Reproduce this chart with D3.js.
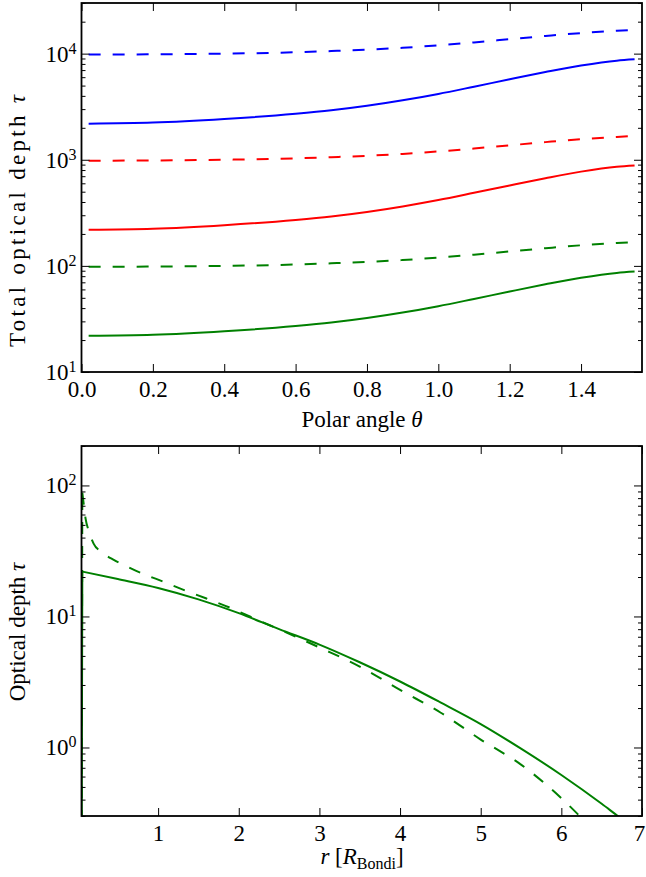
<!DOCTYPE html>
<html>
<head>
<meta charset="utf-8">
<script src="https://cdn.jsdelivr.net/npm/d3@7"></script>
<style>
body { margin: 0; background: #fff; }
text { font-family: "Liberation Serif", "DejaVu Serif", serif; fill: #000; }
</style>
</head>
<body>
<svg id="fig" width="646" height="877"></svg>
<script>
// top panel: total optical depth vs polar angle
var theta = [0.02, 0.2, 0.4, 0.6, 0.7, 0.8, 0.9, 1.0, 1.1, 1.2, 1.3, 1.4, 1.5, 1.55]
var tauBlueSolid = [2190, 2240, 2420, 2710, 2920, 3220, 3630, 4170, 4880, 5730, 6700, 7730, 8590, 8830]
var tauBlueDashed = [9800, 9850, 10000, 10300, 10570, 10890, 11350, 11970, 12760, 13680, 14660, 15630, 16410, 16790]
var tauRedSolid = [219, 224, 242, 271, 292, 322, 363, 417, 488, 573, 670, 773, 859, 883]
var tauRedDashed = [980, 985, 1000, 1030, 1057, 1089, 1135, 1197, 1276, 1368, 1466, 1563, 1641, 1679]
var tauGreenSolid = [21.9, 22.4, 24.2, 27.1, 29.2, 32.2, 36.3, 41.7, 48.8, 57.3, 67.0, 77.3, 85.9, 88.3]
var tauGreenDashed = [98.0, 98.5, 100, 103, 105.7, 108.9, 113.5, 119.7, 127.6, 136.8, 146.6, 156.3, 164.1, 167.9]

// bottom panel: optical depth vs radius (first point is the drop at the inner edge)
var rSolid = [0.05, 0.06, 0.5, 1.0, 1.5, 2.0, 2.5, 3.0, 3.5, 4.0, 4.5, 5.0, 5.5, 6.0, 6.5, 6.7, 6.8]
var tauSolid = [0.05, 22.0, 19.3, 16.5, 13.5, 10.6, 8.0, 6.1, 4.47, 3.19, 2.21, 1.51, 0.98, 0.617, 0.372, 0.30, 0.27]
var rDashed = [0.05, 0.06, 0.08, 0.1, 0.14, 0.2, 0.3, 0.45, 0.6, 0.8, 1.0, 1.3, 1.6, 1.9, 2.2, 2.6, 3.0, 3.5, 4.0, 4.5, 5.0, 5.5, 6.0, 6.3]
var tauDashed = [0.05, 88, 70, 56, 45, 36, 31, 27, 24.3, 21.3, 19.1, 16.1, 13.7, 11.6, 9.6, 7.5, 5.8, 4.15, 2.75, 1.85, 1.15, 0.74, 0.41, 0.27]

// ticks
var thetaTicks = [0.0, 0.2, 0.4, 0.6, 0.8, 1.0, 1.2, 1.4]
var thetaTickLabels = ["0.0", "0.2", "0.4", "0.6", "0.8", "1.0", "1.2", "1.4"]
var tauTopTicks = [10, 100, 1000, 10000]
var tauTopExp = ["1", "2", "3", "4"]
var rTicks = [1, 2, 3, 4, 5, 6, 7]
var rTickLabels = ["1", "2", "3", "4", "5", "6", "7"]
var tauBotTicks = [1, 10, 100]
var tauBotExp = ["0", "1", "2"]

var blue = "#0000ff", red = "#ff0000", green = "#008000"

var svg = d3.select("#fig")
var axLeft = 81.5, axRight = 642

function minorLog(lo, hi) {
  var out = []
  for (var e = -2; e < 6; e++) {
    for (var m = 2; m < 10; m++) {
      var v = m * Math.pow(10, e)
      if (v >= lo && v <= hi) out.push(v)
    }
  }
  return out
}

function supLabels(sel, exps) {
  sel.selectAll(".tick text").each(function(d, i) {
    var t = d3.select(this)
    t.text(null)
    t.append("tspan").text("10")
    t.append("tspan").attr("dy", -8).attr("font-size", 16).text(exps[i])
  })
}

function drawPanel(id, x, y, top, bottom, xTicks, xLabels, yTicks, yExps, series) {
  var g = svg.append("g")

  g.append("clipPath").attr("id", "clip-" + id)
    .append("rect")
    .attr("x", axLeft).attr("y", top)
    .attr("width", axRight - axLeft).attr("height", bottom - top)

  var plot = g.append("g").attr("clip-path", "url(#clip-" + id + ")")

  for (var s of series) {
    var pts = s.xs.map(function(v, i) { return [v, s.ys[i]] })
    var line = d3.line()
      .x(function(d) { return x(d[0]) })
      .y(function(d) { return y(d[1]) })
    var d = ""
    if (s.edge) {
      // straight drop at the inner boundary, smooth curve after it
      d = line.curve(d3.curveLinear)(pts.slice(0, 2)) + line.curve(d3.curveMonotoneX)(pts.slice(1))
    } else {
      d = line.curve(d3.curveMonotoneX)(pts)
    }
    plot.append("path")
      .attr("d", d)
      .attr("fill", "none")
      .attr("stroke", s.color)
      .attr("stroke-width", 2)
      .attr("stroke-dasharray", s.dashed ? "12,12" : null)
  }

  var xMin = x.domain()[0], xMax = x.domain()[1]
  var ticksIn = xTicks.filter(function(v) { return v >= xMin - 1e-9 && v <= xMax + 1e-9 })

  // bottom x axis
  var xb = g.append("g").attr("transform", "translate(0," + bottom + ")")
    .call(d3.axisBottom(x).tickValues(ticksIn).tickSize(-8).tickPadding(9)
      .tickFormat(function(d) { return xLabels[xTicks.indexOf(d)] }))
  // keep the last label inside the picture
  xb.selectAll(".tick text").attr("dx", function(d) { return x(d) > 636 ? -3 : 0 })
  // top x axis
  g.append("g").attr("transform", "translate(0," + top + ")")
    .call(d3.axisTop(x).tickValues(ticksIn).tickSize(-8).tickFormat(""))

  var yd = y.domain()
  var minors = minorLog(yd[0], yd[1])

  var yl = g.append("g").attr("transform", "translate(" + axLeft + ",0)")
    .call(d3.axisLeft(y).tickValues(yTicks).tickSize(-8).tickPadding(5))
  supLabels(yl, yExps)
  g.append("g").attr("transform", "translate(" + axLeft + ",0)")
    .call(d3.axisLeft(y).tickValues(minors).tickSize(-4).tickFormat(""))
  g.append("g").attr("transform", "translate(" + axRight + ",0)")
    .call(d3.axisRight(y).tickValues(yTicks).tickSize(-8).tickFormat(""))
  g.append("g").attr("transform", "translate(" + axRight + ",0)")
    .call(d3.axisRight(y).tickValues(minors).tickSize(-4).tickFormat(""))

  g.selectAll(".domain").remove()
  g.selectAll(".tick line").attr("stroke", "#000").attr("stroke-width", 1)
  g.selectAll(".tick text").attr("font-size", 23)
    .attr("font-family", "Liberation Serif, DejaVu Serif, serif")

  g.append("rect")
    .attr("x", axLeft).attr("y", top)
    .attr("width", axRight - axLeft).attr("height", bottom - top)
    .attr("fill", "none").attr("stroke", "#000").attr("stroke-width", 1.8)

  return g
}

// top panel
var x1 = d3.scaleLinear().domain([0, Math.PI / 2]).range([axLeft, axRight])
var y1 = d3.scaleLog().domain([10, 30000]).range([372, 3])
drawPanel("top", x1, y1, 3, 372, thetaTicks, thetaTickLabels, tauTopTicks, tauTopExp, [
  {xs: theta, ys: tauBlueDashed, color: blue, dashed: true},
  {xs: theta, ys: tauBlueSolid, color: blue, dashed: false},
  {xs: theta, ys: tauRedDashed, color: red, dashed: true},
  {xs: theta, ys: tauRedSolid, color: red, dashed: false},
  {xs: theta, ys: tauGreenDashed, color: green, dashed: true},
  {xs: theta, ys: tauGreenSolid, color: green, dashed: false}
])

// bottom panel
var x2 = d3.scaleLinear().domain([0.05, 7]).range([axLeft, axRight])
var y2 = d3.scaleLog().domain([0.3, 200]).range([816, 446])
drawPanel("bot", x2, y2, 446, 816, rTicks, rTickLabels, tauBotTicks, tauBotExp, [
  {xs: rSolid, ys: tauSolid, color: green, dashed: false, edge: true},
  {xs: rDashed, ys: tauDashed, color: green, dashed: true, edge: true}
])

// axis labels
svg.append("text").attr("x", 362).attr("y", 427)
  .attr("text-anchor", "middle").attr("font-size", 23)
  .html("Polar angle <tspan font-style='italic'>θ</tspan>")

svg.append("text")
  .attr("transform", "translate(25,221) rotate(-90)")
  .attr("text-anchor", "middle").attr("font-size", 23)
  .attr("textLength", 252).attr("lengthAdjust", "spacing")
  .html("Total optical depth <tspan font-style='italic'>τ</tspan>")

svg.append("text")
  .attr("transform", "translate(25,632) rotate(-90)")
  .attr("text-anchor", "middle").attr("font-size", 23)
  .html("Optical depth <tspan font-style='italic'>τ</tspan>")

svg.append("text").attr("x", 362).attr("y", 864)
  .attr("text-anchor", "middle").attr("font-size", 23)
  .html("<tspan font-style='italic'>r</tspan> [<tspan font-style='italic'>R</tspan><tspan dy='5' font-size='16'>Bondi</tspan><tspan dy='-5'>]</tspan>")
</script>
</body>
</html>
